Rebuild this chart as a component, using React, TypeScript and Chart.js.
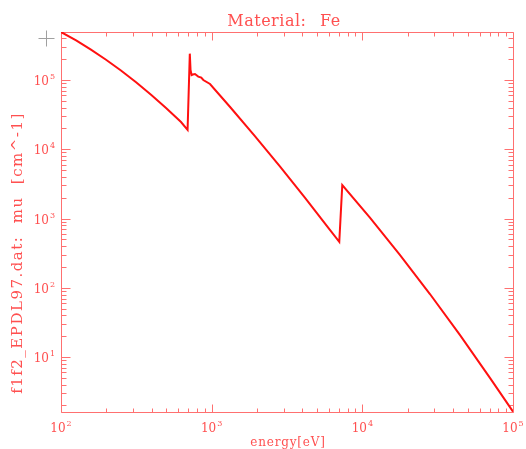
import React, { useEffect, useRef } from "react";
import { Chart, registerables } from "chart.js";

Chart.register(...registerables);

// ---- data ----
const energyEV = [
  100, 126, 158, 199, 250, 315, 396, 498, 626, 692, 716, 724, 736, 750, 775,
  815, 853, 880, 975, 1321, 1936, 2837, 4156, 6093, 7030, 7360, 11230, 17750,
  28100, 44400, 70300, 100000,
];
const muCm = [
  4.93e5, 3.73e5, 2.74e5, 1.96e5, 1.37e5, 9.3e4, 6.11e4, 3.94e4, 2.47e4,
  1.9e4, 2.4e5, 1.4e5, 1.18e5, 1.2e5, 1.22e5, 1.12e5, 1.08e5, 1.0e5, 8.75e4,
  4.11e4, 1.55e4, 5.68e3, 2.0e3, 684, 462, 3.05e3, 1.03e3, 298, 81.3, 20.9,
  5.01, 1.63,
];
const cursorMark = { x: 80, y: 4.04e5 };

const xDecadeExps = [2, 3, 4, 5];
const yDecadeExps = [1, 2, 3, 4, 5];
const xRange = [100, 1e5];
const yRange = [1.61, 4.93e5];

const titleText = "Material: Fe";
const xTitle = "energy[eV]";
const yTitle = "f1f2_EPDL97.dat: mu [cm^-1]";

const AXIS_COLOR = "#ff7070";
const TEXT_COLOR = "#ff5050";
const LINE_COLOR = "#ff1010";
const FONT = '"DejaVu Serif"';

function drawPower(
  ctx: CanvasRenderingContext2D,
  exp: number,
  x: number,
  baseY: number,
  align: "center" | "right"
) {
  ctx.font = `12px ${FONT}`;
  const wb = ctx.measureText("10").width;
  ctx.font = `8px ${FONT}`;
  const we = ctx.measureText(String(exp)).width;
  const total = wb + we + 1;
  const left = align === "center" ? x - total / 2 : x - total;
  ctx.textAlign = "left";
  ctx.textBaseline = "alphabetic";
  ctx.font = `12px ${FONT}`;
  ctx.fillText("10", left, baseY);
  ctx.font = `8px ${FONT}`;
  ctx.fillText(String(exp), left + wb + 1, baseY - 6);
}

const idlAxes = {
  id: "idlAxes",
  beforeDatasetsDraw(chart: any) {
    const { ctx, chartArea: a, scales } = chart;
    const xs = scales.x;
    const ys = scales.y;
    const L = Math.round(a.left) + 0.5;
    const R = Math.round(a.right) + 0.5;
    const T = Math.round(a.top) + 0.5;
    const B = Math.round(a.bottom) + 0.5;
    ctx.save();
    ctx.strokeStyle = AXIS_COLOR;
    ctx.lineWidth = 1;
    ctx.beginPath();
    ctx.rect(L, T, R - L, B - T);
    for (let e = 2; e <= 5; e++) {
      for (let m = 1; m <= 9; m++) {
        const v = m * Math.pow(10, e);
        if (v < xRange[0] || v > xRange[1]) continue;
        const px = Math.round(xs.getPixelForValue(v)) + 0.5;
        const len = m === 1 ? 8 : 4;
        ctx.moveTo(px, B);
        ctx.lineTo(px, B - len);
        ctx.moveTo(px, T);
        ctx.lineTo(px, T + len);
      }
    }
    for (let e = 0; e <= 5; e++) {
      for (let m = 1; m <= 9; m++) {
        const v = m * Math.pow(10, e);
        if (v < yRange[0] || v > yRange[1]) continue;
        const py = Math.round(ys.getPixelForValue(v)) + 0.5;
        const len = m === 1 ? 9 : 5;
        ctx.moveTo(L, py);
        ctx.lineTo(L + len, py);
        ctx.moveTo(R, py);
        ctx.lineTo(R - len, py);
      }
    }
    ctx.stroke();

    // cursor cross left of the frame
    const cx = Math.round(xs.getPixelForValue(cursorMark.x)) + 0.5;
    const cy = Math.round(ys.getPixelForValue(cursorMark.y)) + 0.5;
    ctx.strokeStyle = "#a0a0a0";
    ctx.beginPath();
    ctx.moveTo(cx - 8, cy);
    ctx.lineTo(cx + 8, cy);
    ctx.moveTo(cx, cy - 8);
    ctx.lineTo(cx, cy + 8);
    ctx.stroke();

    ctx.fillStyle = TEXT_COLOR;
    for (const e of xDecadeExps) {
      drawPower(ctx, e, xs.getPixelForValue(Math.pow(10, e)), a.bottom + 20, "center");
    }
    for (const e of yDecadeExps) {
      drawPower(ctx, e, a.left - 6, ys.getPixelForValue(Math.pow(10, e)) + 5, "right");
    }

    const c: any = ctx;
    ctx.font = `16px ${FONT}`;
    c.letterSpacing = "0.5px";
    c.wordSpacing = "8px";
    ctx.textAlign = "center";
    ctx.textBaseline = "alphabetic";
    ctx.fillText(titleText, (a.left + a.right) / 2 - 3, 26);

    ctx.font = `12px ${FONT}`;
    c.letterSpacing = "0.8px";
    c.wordSpacing = "0px";
    ctx.fillText(xTitle, (a.left + a.right) / 2 + 1, 446);

    ctx.save();
    ctx.translate(22, 253);
    ctx.rotate(-Math.PI / 2);
    ctx.font = `15px ${FONT}`;
    c.letterSpacing = "1.5px";
    c.wordSpacing = "6px";
    ctx.fillText(yTitle, 0, 0);
    ctx.restore();
    c.letterSpacing = "0px";
    c.wordSpacing = "0px";
    ctx.restore();
  },
};

export default function App() {
  const ref = useRef<HTMLCanvasElement | null>(null);
  useEffect(() => {
    if (!ref.current) return;
    const chart = new Chart(ref.current, {
      type: "line",
      data: {
        datasets: [
          {
            data: energyEV.map((x, i) => ({ x, y: muCm[i] })),
            borderColor: LINE_COLOR,
            borderWidth: 2,
            pointRadius: 0,
            tension: 0,
            fill: false,
          } as any,
        ],
      },
      options: {
        animation: false,
        responsive: false,
        maintainAspectRatio: false,
        events: [],
        layout: { padding: { left: 61, right: 13, top: 32, bottom: 37 } },
        plugins: {
          legend: { display: false },
          tooltip: { enabled: false },
          title: { display: false },
        },
        scales: {
          x: { type: "logarithmic", min: xRange[0], max: xRange[1], display: false },
          y: { type: "logarithmic", min: yRange[0], max: yRange[1], display: false },
        },
      },
      plugins: [idlAxes],
    });
    return () => chart.destroy();
  }, []);
  return (
    <div style={{ position: "fixed", left: 0, top: 0, width: 526, height: 449, background: "#fff" }}>
      <canvas ref={ref} width={526} height={449} style={{ display: "block" }} />
    </div>
  );
}
